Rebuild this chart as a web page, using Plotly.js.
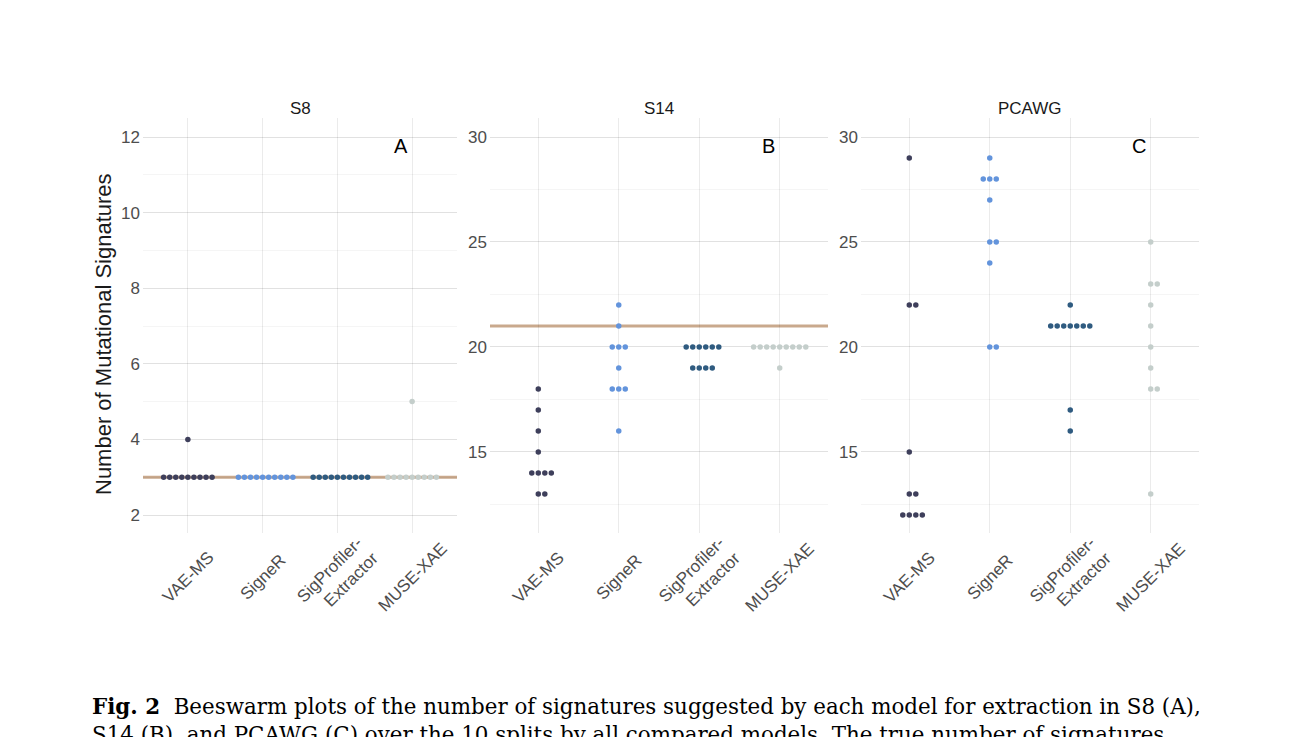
<!DOCTYPE html>
<html><head><meta charset="utf-8">
<script src="https://cdn.plot.ly/plotly-3.0.1.min.js"></script>
<style>html,body{margin:0;padding:0;background:#fff;}</style>
</head><body>
<div id="chart" style="width:1293px;height:737px;"></div>
<script>
// ---- data ----
const models = ['VAE-MS', 'SigneR', 'SigProfiler-<br>Extractor', 'MUSE-XAE'];
const modelColors = ['#3e3f5b', '#6394dc', '#2f5b80', '#c4cecb'];
const panelTitles = ['S8', 'S14', 'PCAWG'];
const panelLetters = ['A', 'B', 'C'];
const trueSignatures = [3, 21, null];

const s8_vae     = [3, 3, 3, 3, 3, 3, 3, 3, 3, 4];
const s8_signer  = [3, 3, 3, 3, 3, 3, 3, 3, 3, 3];
const s8_sigprof = [3, 3, 3, 3, 3, 3, 3, 3, 3, 3];
const s8_muse    = [3, 3, 3, 3, 3, 3, 3, 3, 3, 5];

const s14_vae     = [18, 17, 16, 15, 14, 14, 14, 14, 13, 13];
const s14_signer  = [22, 21, 20, 20, 20, 19, 18, 18, 18, 16];
const s14_sigprof = [20, 20, 20, 20, 20, 20, 19, 19, 19, 19];
const s14_muse    = [20, 20, 20, 20, 20, 20, 20, 20, 20, 19];

const pcawg_vae     = [29, 22, 22, 15, 13, 13, 12, 12, 12, 12];
const pcawg_signer  = [29, 28, 28, 28, 27, 25, 25, 24, 20, 20];
const pcawg_sigprof = [22, 21, 21, 21, 21, 21, 21, 21, 17, 16];
const pcawg_muse    = [25, 23, 23, 22, 21, 20, 19, 18, 18, 13];

const panelData = [
  [s8_vae, s8_signer, s8_sigprof, s8_muse],
  [s14_vae, s14_signer, s14_sigprof, s14_muse],
  [pcawg_vae, pcawg_signer, pcawg_sigprof, pcawg_muse]
];

const yTicks = [[2, 4, 6, 8, 10, 12], [15, 20, 25, 30], [15, 20, 25, 30]];
const yRanges = [[1.524, 12.503], [11.14, 30.905], [11.14, 30.905]];
const yMinorStep = [1, 2.5, 2.5];

const yTitle = 'Number of Mutational Signatures';
const captionLines = [
  '<b>Fig. 2</b>  Beeswarm plots of the number of signatures suggested by each model for extraction in S8 (A),',
  'S14 (B), and PCAWG (C) over the 10 splits by all compared models. The true number of signatures'
];

// ---- layout helpers ----
const W = 1293, H = 737;
const xDomPx = [[143, 457], [490, 828], [861, 1199]];
const yTopPx = 118, yBotPx = 533;
const labelCenterPx = 577;
const SWARM_STEP = 0.081;

function swarm(vals, cat) {
  const counts = {};
  vals.forEach(v => counts[v] = (counts[v] || 0) + 1);
  const seen = {};
  const xs = [], ys = [];
  vals.forEach(v => {
    const n = counts[v];
    const k = seen[v] || 0;
    seen[v] = k + 1;
    xs.push(cat + (k - Math.floor((n - 1) / 2)) * SWARM_STEP);
    ys.push(v);
  });
  return {xs, ys};
}

const traces = [];
const layout = {
  width: W, height: H,
  margin: {l: 0, r: 0, t: 0, b: 0},
  paper_bgcolor: '#fff', plot_bgcolor: '#fff',
  showlegend: false,
  font: {family: 'Liberation Sans, Arial, sans-serif', color: '#4d4d4d'},
  shapes: [], annotations: []
};

panelData.forEach((series, p) => {
  const xa = p === 0 ? 'x' : 'x' + (p + 1);
  const ya = p === 0 ? 'y' : 'y' + (p + 1);
  series.forEach((vals, m) => {
    const s = swarm(vals, m);
    traces.push({
      type: 'scatter', mode: 'markers', x: s.xs, y: s.ys,
      xaxis: xa, yaxis: ya, hoverinfo: 'skip',
      marker: {color: modelColors[m], size: 5.5, line: {width: 0}}
    });
    // category label, rotated 45° and centred under its column (as ggplot draws it)
    layout.annotations.push({
      text: models[m], xref: xa, yref: 'paper',
      x: m, y: (H - labelCenterPx) / H,
      xanchor: 'center', yanchor: 'middle', textangle: -45, align: 'right',
      showarrow: false, font: {size: 17, color: '#4d4d4d'}
    });
  });
  const axKey = p === 0 ? '' : String(p + 1);
  layout['xaxis' + axKey] = {
    domain: [xDomPx[p][0] / W, xDomPx[p][1] / W],
    range: [-0.6, 3.6], anchor: ya,
    tickmode: 'array', tickvals: [0, 1, 2, 3], ticktext: models,
    showticklabels: false,
    showgrid: true, gridcolor: 'rgba(0,0,0,0.08)', gridwidth: 1,
    zeroline: false, showline: false, ticks: '', fixedrange: true
  };
  layout['yaxis' + axKey] = {
    domain: [(H - yBotPx) / H, (H - yTopPx) / H],
    range: yRanges[p], anchor: xa,
    tickmode: 'array', tickvals: yTicks[p],
    tickfont: {size: 17, color: '#4d4d4d'},
    showgrid: true, gridcolor: 'rgba(0,0,0,0.08)', gridwidth: 1,
    minor: {dtick: yMinorStep[p], tick0: 0, showgrid: true, gridcolor: 'rgba(0,0,0,0.04)', gridwidth: 1},
    zeroline: false, showline: false, ticks: '', fixedrange: true,
    ticklabelstandoff: 2
  };
  if (trueSignatures[p] !== null) {
    layout.shapes.push({
      type: 'line', xref: xa + ' domain', yref: ya,
      x0: 0, x1: 1, y0: trueSignatures[p], y1: trueSignatures[p],
      line: {color: '#c9a98d', width: 3}, layer: 'below'
    });
  }
  layout.annotations.push({
    text: panelTitles[p], xref: xa + ' domain', yref: ya + ' domain',
    x: 0.5, y: 1, yshift: -2, xanchor: 'center', yanchor: 'bottom', showarrow: false,
    font: {size: 17, color: '#1a1a1a'}
  });
  layout.annotations.push({
    text: panelLetters[p], xref: xa + ' domain', yref: ya + ' domain',
    x: 0.823, y: 0.9325, xanchor: 'center', yanchor: 'middle', showarrow: false,
    font: {size: 20, color: '#000'}
  });
});

layout.annotations.push({
  text: yTitle, xref: 'paper', yref: 'paper', x: 103 / W, y: (H - 334) / H,
  xanchor: 'center', yanchor: 'middle', textangle: -90, showarrow: false,
  font: {size: 22, color: '#1a1a1a'}
});

const captionTops = [692, 720];
captionLines.forEach((line, i) => {
  layout.annotations.push({
    text: line,
    xref: 'paper', yref: 'paper', x: 90 / W, y: (H - captionTops[i]) / H,
    xanchor: 'left', yanchor: 'top', align: 'left', showarrow: false,
    font: {family: 'DejaVu Serif, serif', size: 21.4, color: '#000'}
  });
});

Plotly.newPlot('chart', traces, layout, {displayModeBar: false, staticPlot: true});
</script>
</body></html>
